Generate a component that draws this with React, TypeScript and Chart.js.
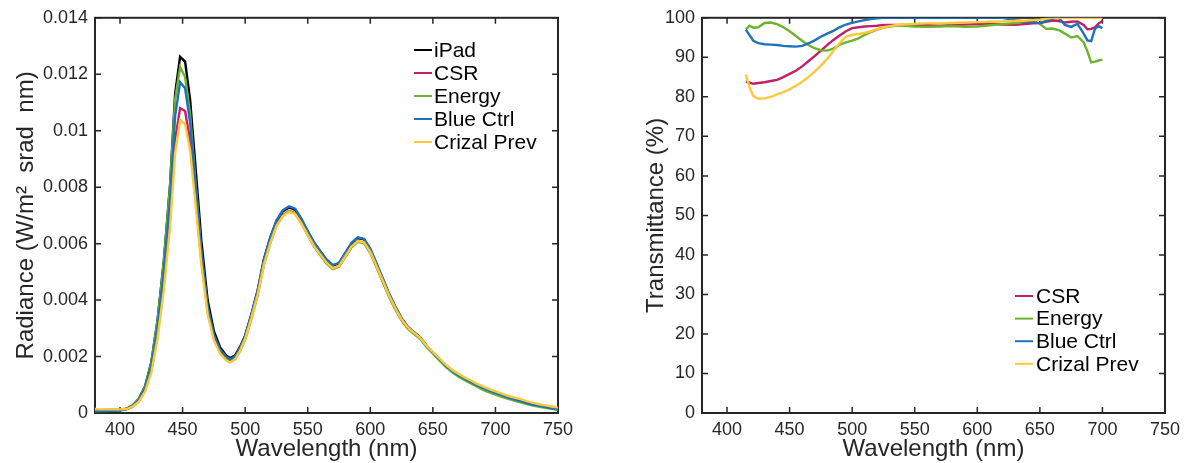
import React, { useEffect, useRef } from "react";
import { Chart, registerables } from "chart.js";

Chart.register(...registerables);

// ---------- Left panel: radiance spectra ----------
const radWavelengths = [
  380, 385, 390, 395, 400, 405, 410, 415, 420, 425, 430, 435, 440, 444, 448, 452, 456, 460, 465, 470,
  475, 480, 485, 488, 492, 496, 500, 505, 510, 515, 520, 525, 530, 535, 540, 545, 550, 555, 560, 565,
  570, 575, 580, 585, 590, 595, 600, 605, 610, 615, 620, 625, 630, 635, 640, 645, 650, 655, 660, 665,
  670, 675, 680, 685, 690, 695, 700, 705, 710, 715, 720, 725, 730, 735, 740, 745, 750,
];

const radIPad = [
  0.0001, 0.0001, 0.00011, 0.00011, 0.00012, 0.00015, 0.00026, 0.0005, 0.00095, 0.0018,
  0.0033, 0.0054, 0.0081, 0.0113, 0.01262, 0.01245, 0.0111, 0.0089, 0.0061, 0.004,
  0.0029, 0.00232, 0.00203, 0.00195, 0.00204, 0.00235, 0.00275, 0.0035, 0.00435, 0.00545,
  0.0062, 0.0068, 0.00714, 0.00728, 0.0072, 0.00685, 0.00643, 0.00603, 0.00572, 0.00542,
  0.00522, 0.0053, 0.00565, 0.006, 0.0062, 0.00615, 0.0058, 0.00528, 0.00475, 0.00421,
  0.00375, 0.00335, 0.00305, 0.00285, 0.00267, 0.00238, 0.00215, 0.00193, 0.0017, 0.00152,
  0.00137, 0.00124, 0.00113, 0.00101, 0.00091, 0.00081, 0.00072, 0.00064, 0.00056, 0.0005,
  0.00044, 0.00037, 0.00031, 0.00027, 0.00023, 0.00019, 0.00014,
];

const radCSR = [
  0.00009, 0.00009, 0.0001, 0.0001, 0.00011, 0.00013, 0.00022, 0.00042, 0.0008, 0.00151,
  0.00277, 0.00455, 0.0069, 0.00965, 0.0108, 0.0107, 0.00965, 0.0078, 0.0054, 0.0036,
  0.00265, 0.00215, 0.00192, 0.00185, 0.00196, 0.00228, 0.00268, 0.00342, 0.00425, 0.00533,
  0.00608, 0.00667, 0.007, 0.00715, 0.00708, 0.00673, 0.00632, 0.00592, 0.00561, 0.00532,
  0.00512, 0.0052, 0.00554, 0.00589, 0.00608, 0.00603, 0.00569, 0.00518, 0.00466, 0.00413,
  0.00368, 0.00329, 0.003, 0.00281, 0.00264, 0.00236, 0.00213, 0.00191, 0.00168, 0.0015,
  0.00136, 0.00123, 0.00112, 0.001, 0.0009, 0.0008, 0.00072, 0.00064, 0.00056, 0.0005,
  0.00044, 0.00037, 0.00032, 0.00027, 0.00023, 0.0002, 0.00016,
];

const radEnergy = [
  0.00009, 0.00009, 0.0001, 0.0001, 0.00011, 0.00014, 0.00025, 0.00049, 0.00094, 0.00178,
  0.00328, 0.00535, 0.00805, 0.0111, 0.01225, 0.0119, 0.0106, 0.00835, 0.00565, 0.0037,
  0.00268, 0.00214, 0.00188, 0.00181, 0.0019, 0.0022, 0.0026, 0.00333, 0.00416, 0.00525,
  0.006, 0.00662, 0.00698, 0.00714, 0.00706, 0.00672, 0.0063, 0.0059, 0.0056, 0.0053,
  0.0051, 0.00518, 0.00552, 0.00587, 0.00606, 0.00601, 0.00567, 0.00517, 0.00465, 0.00412,
  0.00367, 0.00328, 0.00299, 0.0028, 0.00262, 0.00234, 0.00211, 0.00187, 0.00164, 0.00146,
  0.0013, 0.00117, 0.00106, 0.00094, 0.00082, 0.00073, 0.00065, 0.00057, 0.0005, 0.00044,
  0.00038, 0.00032, 0.00026, 0.00022, 0.00018, 0.00015, 0.00011,
];

const radBlueCtrl = [
  0.00006, 0.00006, 0.00007, 0.00008, 0.00009, 0.00013, 0.00024, 0.00046, 0.00088, 0.00167,
  0.00307, 0.00502, 0.00755, 0.0105, 0.01172, 0.0115, 0.0103, 0.00825, 0.0057, 0.00378,
  0.00277, 0.00224, 0.00198, 0.0019, 0.002, 0.00232, 0.00273, 0.00348, 0.00433, 0.00543,
  0.0062, 0.00682, 0.00718, 0.00732, 0.00724, 0.00688, 0.00645, 0.00605, 0.00574, 0.00544,
  0.00524, 0.00532, 0.00567, 0.00603, 0.00622, 0.00617, 0.00582, 0.0053, 0.00477, 0.00423,
  0.00377, 0.00336, 0.00306, 0.00286, 0.00267, 0.00237, 0.00214, 0.00192, 0.00169, 0.0015,
  0.00135, 0.00122, 0.0011, 0.00099, 0.00089, 0.00079, 0.00071, 0.00063, 0.00055, 0.00048,
  0.00042, 0.00035, 0.00029, 0.00025, 0.00021, 0.00017, 0.00012,
];

const radCrizalPrev = [
  0.00014, 0.00013, 0.00013, 0.00013, 0.00013, 0.00014, 0.00022, 0.0004, 0.00076, 0.00143,
  0.00265, 0.00435, 0.0066, 0.0092, 0.01038, 0.01024, 0.0093, 0.00755, 0.00525, 0.0035,
  0.00258, 0.0021, 0.00186, 0.00179, 0.0019, 0.00222, 0.00263, 0.00338, 0.0042, 0.00527,
  0.00602, 0.00662, 0.00697, 0.00712, 0.00705, 0.00671, 0.00631, 0.00592, 0.00562, 0.00533,
  0.00513, 0.00521, 0.00555, 0.0059, 0.00609, 0.00605, 0.00571, 0.00521, 0.00469, 0.00416,
  0.00371, 0.00332, 0.00303, 0.00284, 0.00266, 0.00238, 0.00216, 0.00194, 0.00172, 0.00154,
  0.0014, 0.00127, 0.00116, 0.00104, 0.00094, 0.00085, 0.00077, 0.00069, 0.00061, 0.00055,
  0.00049, 0.00042, 0.00036, 0.00031, 0.00027, 0.00023, 0.00019,
];

// ---------- Right panel: transmittance ----------
const transWavelengths = [
  415, 418, 421, 425, 430, 435, 440, 445, 450, 455, 460, 465, 470, 475, 480, 485, 490, 495, 500, 505,
  510, 515, 520, 525, 530, 535, 540, 545, 550, 560, 570, 580, 590, 600, 610, 620, 630, 640, 645, 650,
  655, 660, 665, 670, 675, 680, 685, 688, 691, 694, 697, 700,
];

const transCSR = [
  83.8, 83.6, 83.3, 83.5, 83.7, 84.0, 84.3, 85.0, 85.8, 86.6, 87.7, 89.0, 90.3, 91.7, 93.1, 94.4, 95.5, 96.6, 97.4, 97.6,
  97.8, 97.9, 98.0, 98.2, 98.2, 98.2, 98.2, 98.2, 98.2, 98.1, 98.0, 98.2, 98.3, 98.4, 98.5, 98.3, 98.2, 98.5, 98.6, 98.7,
  99.0, 99.3, 99.2, 98.8, 99.0, 99.1, 98.2, 97.1, 97.2, 97.6, 98.6, 99.2,
];

const transEnergy = [
  97.1, 98.0, 97.5, 97.6, 98.7, 98.8, 98.4, 97.6, 96.6, 95.4, 94.2, 93.1, 92.3, 91.8, 91.7, 92.2, 93.2, 93.8, 94.2, 94.8,
  95.7, 96.4, 97.0, 97.5, 97.8, 98.0, 98.0, 97.9, 97.8, 97.7, 97.8, 97.9, 97.7, 97.8, 98.1, 98.4, 98.7, 99.1, 99.2, 98.5,
  97.2, 97.3, 96.9, 96.0, 95.0, 95.4, 93.8, 91.5, 88.7, 88.9, 89.2, 89.4,
];

const transBlueCtrl = [
  97.0, 95.6, 94.2, 93.6, 93.3, 93.2, 93.1, 92.9, 92.8, 92.7, 92.9, 93.5, 94.3, 95.2, 96.0, 96.7, 97.6, 98.3, 98.7, 99.1,
  99.4, 99.7, 99.9, 100, 100, 100, 100, 100, 100, 100, 100, 100, 100, 100, 100, 100, 99.4, 99.0, 98.9, 98.6,
  99.2, 99.8, 100, 98.2, 97.7, 98.5, 96.0, 94.3, 94.1, 97.2, 97.9, 97.4,
];

const transCrizalPrev = [
  85.6, 82.4, 80.2, 79.5, 79.6, 80.0, 80.6, 81.2, 81.9, 82.8, 83.8, 85.0, 86.4, 87.9, 89.6, 91.6, 93.6, 95.2, 95.7, 95.9,
  96.2, 96.6, 97.1, 97.6, 97.9, 98.1, 98.3, 98.4, 98.5, 98.6, 98.6, 98.7, 98.8, 98.9, 99.0, 99.1, 99.2, 99.3, 99.4, 99.5,
  99.8, 100, 100, 100, 100, 100, 100, 100, 100, 100, 100, 100,
];

// ---------- Axes ----------
const xTicks = [400, 450, 500, 550, 600, 650, 700, 750];
const radYTicks = [0, 0.002, 0.004, 0.006, 0.008, 0.01, 0.012, 0.014];
const transYTicks = [0, 10, 20, 30, 40, 50, 60, 70, 80, 90, 100];

const COLORS = {
  iPad: "#000000",
  CSR: "#C21F66",
  Energy: "#6CB42B",
  BlueCtrl: "#1F72B9",
  CrizalPrev: "#FFC83A",
};

const FONT = '"Liberation Sans", Arial, Helvetica, sans-serif';
const AXIS = "#262626";

const boxPlugin = {
  id: "matlabBox",
  beforeDatasetsDraw(chart: any) {
    const { ctx, chartArea: a, scales } = chart;
    const L = 6;
    ctx.save();
    ctx.strokeStyle = AXIS;
    ctx.lineWidth = 1.5;
    ctx.beginPath();
    scales.x.ticks.forEach((t: any) => {
      const px = scales.x.getPixelForValue(t.value);
      ctx.moveTo(px, a.bottom);
      ctx.lineTo(px, a.bottom - L);
      ctx.moveTo(px, a.top);
      ctx.lineTo(px, a.top + L);
    });
    scales.y.ticks.forEach((t: any) => {
      const py = scales.y.getPixelForValue(t.value);
      ctx.moveTo(a.left, py);
      ctx.lineTo(a.left + L, py);
      ctx.moveTo(a.right, py);
      ctx.lineTo(a.right - L, py);
    });
    ctx.stroke();
    ctx.lineWidth = 2;
    ctx.strokeRect(a.left, a.top, a.right - a.left, a.bottom - a.top);
    ctx.restore();
  },
};

const legendPlugin = {
  id: "matlabLegend",
  afterDraw(chart: any, _args: any, opts: any) {
    const { ctx } = chart;
    ctx.save();
    ctx.font = `${opts.size}px ${FONT}`;
    ctx.textBaseline = "middle";
    ctx.textAlign = "left";
    chart.data.datasets.forEach((ds: any, i: number) => {
      const y = opts.y + i * opts.rowH;
      ctx.strokeStyle = ds.borderColor;
      ctx.lineWidth = 2;
      ctx.beginPath();
      ctx.moveTo(opts.x, y);
      ctx.lineTo(opts.x + opts.lineLen, y);
      ctx.stroke();
      ctx.fillStyle = "#000";
      ctx.fillText(ds.label, opts.x + opts.lineLen + opts.gap, y + 1);
    });
    ctx.restore();
  },
};

type Series = { label: string; color: string; values: number[] };

function makeConfig(
  wl: number[],
  series: Series[],
  yMax: number,
  yTicks: number[],
  yTitle: string,
  yAxisWidth: number,
  yTitlePad: number,
  rightPad: number,
  yFmt: (v: number) => string,
  legend: any
): any {
  const n = series.length;
  return {
    type: "line",
    data: {
      datasets: series.map((s, k) => ({
        label: s.label,
        data: wl.map((x, i) => ({ x, y: s.values[i] })),
        borderColor: s.color,
        backgroundColor: s.color,
        borderWidth: 2.4,
        pointRadius: 0,
        fill: false,
        tension: 0,
        order: n - k,
      })),
    },
    options: {
      animation: false,
      responsive: false,
      events: [],
      layout: { padding: { left: 0, right: rightPad, top: 17, bottom: 0 } },
      plugins: {
        legend: { display: false },
        tooltip: { enabled: false },
        matlabLegend: legend,
      },
      scales: {
        x: {
          type: "linear",
          min: 380,
          max: 750,
          afterBuildTicks: (s: any) => {
            s.ticks = xTicks.map((v) => ({ value: v }));
          },
          afterFit: (s: any) => {
            s.height = 50;
          },
          grid: { display: false, drawTicks: false },
          border: { display: false },
          ticks: {
            font: { family: FONT, size: 18 },
            color: AXIS,
            padding: 6,
            maxRotation: 0,
            autoSkip: false,
            callback: (v: any) => String(v),
          },
          title: {
            display: true,
            text: "Wavelength (nm)",
            font: { family: FONT, size: 24, lineHeight: 1 },
            color: AXIS,
            padding: { top: 0, bottom: 1.5 },
          },
        },
        y: {
          type: "linear",
          min: 0,
          max: yMax,
          afterBuildTicks: (s: any) => {
            s.ticks = yTicks.map((v) => ({ value: v }));
          },
          afterFit: (s: any) => {
            s.width = yAxisWidth;
          },
          grid: { display: false, drawTicks: false },
          border: { display: false },
          ticks: {
            font: { family: FONT, size: 18 },
            color: AXIS,
            padding: 7,
            autoSkip: false,
            callback: (v: any) => yFmt(Number(v)),
          },
          title: {
            display: true,
            text: yTitle,
            font: { family: FONT, size: 24 },
            color: AXIS,
            padding: { top: yTitlePad, bottom: 0 },
          },
        },
      },
    },
    plugins: [boxPlugin, legendPlugin],
  };
}

const radSeries: Series[] = [
  { label: "iPad", color: COLORS.iPad, values: radIPad },
  { label: "CSR", color: COLORS.CSR, values: radCSR },
  { label: "Energy", color: COLORS.Energy, values: radEnergy },
  { label: "Blue Ctrl", color: COLORS.BlueCtrl, values: radBlueCtrl },
  { label: "Crizal Prev", color: COLORS.CrizalPrev, values: radCrizalPrev },
];

const transSeries: Series[] = [
  { label: "CSR", color: COLORS.CSR, values: transCSR },
  { label: "Energy", color: COLORS.Energy, values: transEnergy },
  { label: "Blue Ctrl", color: COLORS.BlueCtrl, values: transBlueCtrl },
  { label: "Crizal Prev", color: COLORS.CrizalPrev, values: transCrizalPrev },
];

export default function App() {
  const leftRef = useRef<HTMLCanvasElement>(null);
  const rightRef = useRef<HTMLCanvasElement>(null);

  useEffect(() => {
    const c1 = new Chart(
      leftRef.current as HTMLCanvasElement,
      makeConfig(
        radWavelengths,
        radSeries,
        0.014,
        radYTicks,
        "Radiance (W/m\u00B2  srad  nm)",
        95,
        12,
        42,
        (v) => (v === 0 ? "0" : String(Number(v.toFixed(3)))),
        { x: 414, y: 50, rowH: 23, lineLen: 18, gap: 2, size: 21 }
      )
    );
    const c2 = new Chart(
      rightRef.current as HTMLCanvasElement,
      makeConfig(
        transWavelengths,
        transSeries,
        100,
        transYTicks,
        "Transmittance (%)",
        102,
        42,
        35,
        (v) => String(Math.round(v)),
        { x: 415, y: 296, rowH: 22.6, lineLen: 18, gap: 3, size: 21 }
      )
    );
    return () => {
      c1.destroy();
      c2.destroy();
    };
  }, []);

  return (
    <div
      style={{
        position: "absolute",
        left: 0,
        top: 0,
        width: 1200,
        height: 463,
        background: "#fff",
        overflow: "hidden",
      }}
    >
      <canvas
        ref={leftRef}
        width={600}
        height={463}
        style={{ position: "absolute", left: 0, top: 0, width: 600, height: 463 }}
      />
      <canvas
        ref={rightRef}
        width={600}
        height={463}
        style={{ position: "absolute", left: 600, top: 0, width: 600, height: 463 }}
      />
    </div>
  );
}
